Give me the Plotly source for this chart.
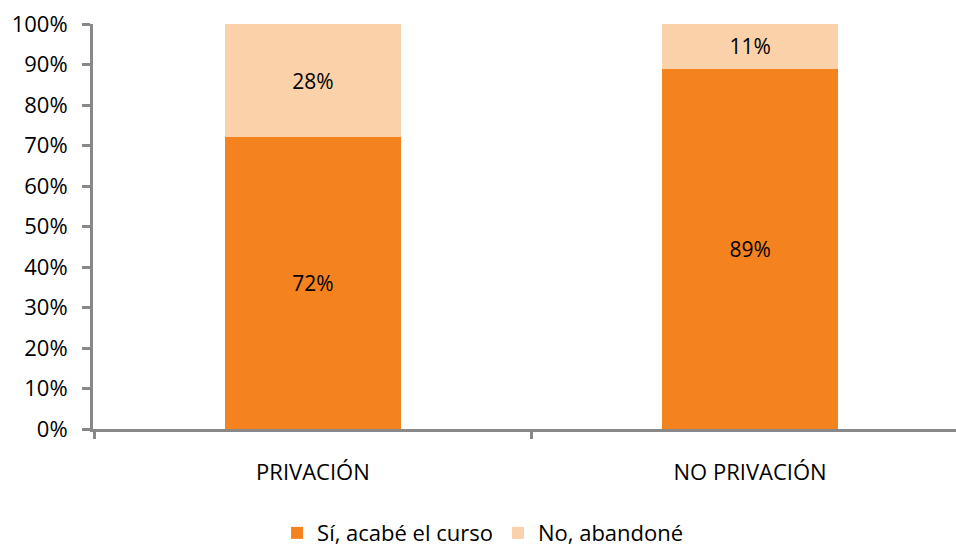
import plotly.graph_objects as go

categories = ['PRIVACIÓN', 'NO PRIVACIÓN']
acabe = [72, 89]
abandone = [28, 11]
series_names = ['Sí, acabé el curso', 'No, abandoné']
y_ticks = list(range(0, 101, 10))

FONT = 'Open Sans, Liberation Sans, sans-serif'
AXIS = '#888888'

fig = go.Figure()
fig.add_trace(go.Bar(
    x=categories, y=acabe, name=series_names[0],
    marker=dict(color='#F4821F', line=dict(width=0)),
    text=[f'{v}%' for v in acabe], textposition='inside', insidetextanchor='middle',
    textfont=dict(size=21, color='black', family=FONT),
    width=0.403,
))
fig.add_trace(go.Bar(
    x=categories, y=abandone, name=series_names[1],
    marker=dict(color='#FAD1A8', line=dict(width=0)),
    text=[f'{v}%' for v in abandone], textposition='inside', insidetextanchor='middle',
    textfont=dict(size=21, color='black', family=FONT),
    width=0.403,
))

fig.update_layout(
    barmode='stack',
    width=956, height=549,
    margin=dict(l=93, r=0, t=24, b=120, autoexpand=False),
    plot_bgcolor='white', paper_bgcolor='white',
    font=dict(family=FONT, size=21, color='black'),
    showlegend=True,
    legend=dict(orientation='h', x=0.452, xanchor='center', y=-0.257, yanchor='middle',
                font=dict(size=22, family=FONT), itemwidth=30, traceorder='normal'),
    xaxis=dict(
        range=[-0.503, 1.471], showline=True, linecolor=AXIS, linewidth=3,
        ticks='outside', tickson='boundaries', ticklen=7, tickwidth=3, tickcolor=AXIS,
        tickfont=dict(size=22, family=FONT), ticklabelstandoff=22,
        showgrid=False, fixedrange=True,
    ),
    yaxis=dict(
        range=[0, 100], tickvals=y_ticks, ticktext=[f'{v}%' for v in y_ticks],
        showline=True, linecolor=AXIS, linewidth=3,
        ticks='outside', ticklen=8, tickwidth=3, tickcolor=AXIS,
        tickfont=dict(size=22, family=FONT), ticklabelstandoff=10,
        showgrid=False, zeroline=False, fixedrange=True,
    ),
)

fig.write_html('out.html', config=dict(displayModeBar=False),
               post_script="document.body.style.margin='0';")
